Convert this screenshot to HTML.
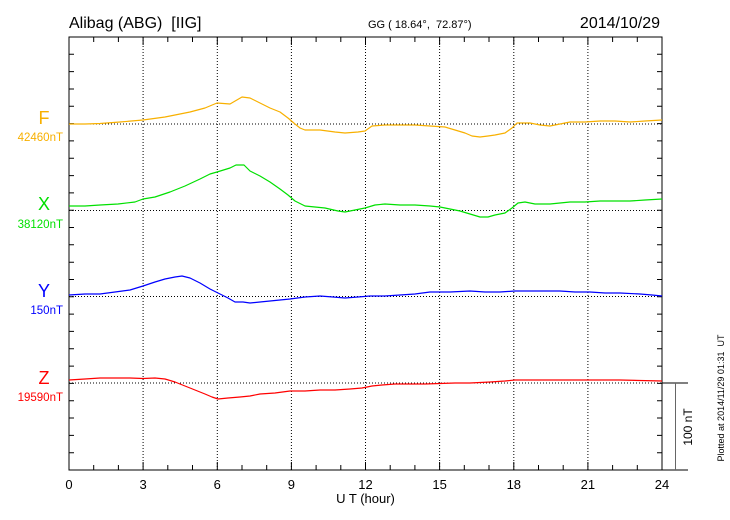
<!DOCTYPE html>
<html><head><meta charset="utf-8"><style>
body{margin:0;background:#fff;}
svg{display:block;font-family:"Liberation Sans",sans-serif;}
</style></head><body>
<svg width="730" height="520" viewBox="0 0 730 520" xmlns="http://www.w3.org/2000/svg">
<rect width="730" height="520" fill="#fff"/>
<text x="69" y="28" font-size="16">Alibag (ABG)&#160;&#160;[IIG]</text>
<text x="368" y="28" font-size="11">GG (&#160;18.64°,&#160;&#160;72.87°)</text>
<text x="660" y="28" font-size="16" text-anchor="end">2014/10/29</text>
<g stroke="#000" stroke-width="1" stroke-dasharray="1,2" fill="none">
<line x1="143.1" y1="37" x2="143.1" y2="470"/><line x1="217.3" y1="37" x2="217.3" y2="470"/>
<line x1="291.4" y1="37" x2="291.4" y2="470"/><line x1="365.5" y1="37" x2="365.5" y2="470"/>
<line x1="439.6" y1="37" x2="439.6" y2="470"/><line x1="513.8" y1="37" x2="513.8" y2="470"/>
<line x1="587.9" y1="37" x2="587.9" y2="470"/>
<line x1="69" y1="124" x2="662" y2="124"/><line x1="69" y1="210.5" x2="662" y2="210.5"/>
<line x1="69" y1="296.5" x2="662" y2="296.5"/><line x1="69" y1="383" x2="662" y2="383"/>
</g>
<g stroke="#000" stroke-width="1" fill="none">
<rect x="69" y="37" width="593" height="433"/>
<line x1="662" y1="470" x2="688" y2="470"/>
<line x1="662" y1="383" x2="688" y2="383"/>
<line x1="675.5" y1="383" x2="675.5" y2="470" stroke="#666"/>
<path d="M93.7 37v5M118.4 37v5M143.1 37v8M167.8 37v5M192.5 37v5M217.3 37v8M242 37v5M266.7 37v5M291.4 37v8M316.1 37v5M340.8 37v5M365.5 37v8M390.2 37v5M414.9 37v5M439.6 37v8M464.3 37v5M489 37v5M513.8 37v8M538.5 37v5M563.2 37v5M587.9 37v8M612.6 37v5M637.3 37v5
M93.7 470v-5M118.4 470v-5M143.1 470v-8M167.8 470v-5M192.5 470v-5M217.3 470v-8M242 470v-5M266.7 470v-5M291.4 470v-8M316.1 470v-5M340.8 470v-5M365.5 470v-8M390.2 470v-5M414.9 470v-5M439.6 470v-8M464.3 470v-5M489 470v-5M513.8 470v-8M538.5 470v-5M563.2 470v-5M587.9 470v-8M612.6 470v-5M637.3 470v-5"/>
<path d="M69 54.3h5M69 71.6h5M69 89h5M69 106.3h5M69 123.6h5M69 140.9h5M69 158.2h5M69 175.6h5M69 192.9h5M69 210.2h5M69 227.5h5M69 244.8h5M69 262.2h5M69 279.5h5M69 296.8h5M69 314.1h5M69 331.4h5M69 348.8h5M69 366.1h5M69 383.4h5M69 400.7h5M69 418h5M69 435.4h5M69 452.7h5
M662 54.3h-5M662 71.6h-5M662 89h-5M662 106.3h-5M662 123.6h-5M662 140.9h-5M662 158.2h-5M662 175.6h-5M662 192.9h-5M662 210.2h-5M662 227.5h-5M662 244.8h-5M662 262.2h-5M662 279.5h-5M662 296.8h-5M662 314.1h-5M662 331.4h-5M662 348.8h-5M662 366.1h-5M662 383.4h-5M662 400.7h-5M662 418h-5M662 435.4h-5M662 452.7h-5"/>
</g>
<g fill="none" stroke-width="1.2" stroke-linejoin="round">
<polyline stroke="#f8b000" points="69,124 85,124 100,123.5 120,122 143,120 165,117 190,112 205,108 217,103 230,104 242,97 250,98 260,103 270,108 280,112 288,118 295,124 300,128 305,130 320,130 335,132 345,133 358,132 365,131 372,126 385,125 400,125 415,125 430,126 445,127 455,130 465,133 472,136 480,137 488,136 495,135 505,133 512,128 517,123 530,123 540,125 550,126 560,124 570,122 585,122 600,121 615,121 630,122 645,121 662,120"/>
<polyline stroke="#00e000" points="69,206 85,206 100,205 118,204 135,202 143,199 155,197 170,192 185,186 200,179 210,174 217,172 230,168 236,165 244,165 250,171 260,176 270,182 280,189 288,195 295,201 305,206 315,207 325,208 338,211 345,212 355,210 365,208 375,205 385,204 400,205 415,205 430,206 440,207 450,209 460,211 470,214 480,217 488,217 495,215 505,213 512,208 518,203 525,202 535,204 550,204 560,203 570,202 585,202 600,201 615,201 630,201 645,200 662,199"/>
<polyline stroke="#0000ff" points="69,295 85,294 100,294 115,292 130,290 143,286 155,282 165,279 175,277 182,276 190,278 200,283 210,289 220,294 228,298 235,302 243,302 250,303 260,302 270,301 280,300 290,299 305,297 320,296 333,297 345,298 358,297 370,296 385,296 400,295 415,294 430,292 450,292 470,291 485,292 500,292 515,291 530,291 545,291 560,291 575,292 590,292 605,293 620,293 640,294 652,295 662,296"/>
<polyline stroke="#ff0000" points="69,380 85,379 100,378 115,378 130,378 143,378.5 155,378 165,379 175,382 185,386 195,390 205,394 212,397 218,399 228,398 240,397 250,396 260,394 275,393 290,391 305,391 320,390 335,390 350,389 362,388 372,386 382,385 395,384 410,384 425,384 440,383.5 455,383 470,383 490,382 505,381 515,380 530,380 545,380 560,380 580,380 600,380 620,380 640,380.5 662,381"/>
</g>
<g font-size="18" text-anchor="middle">
<text x="44" y="124" fill="#f8b000">F</text>
<text x="44" y="210" fill="#00e000">X</text>
<text x="44" y="297" fill="#0000ff">Y</text>
<text x="44" y="384" fill="#ff0000">Z</text>
</g>
<g font-size="11.5" text-anchor="end">
<text x="63" y="141" fill="#f8b000">42460nT</text>
<text x="63" y="228" fill="#00e000">38120nT</text>
<text x="63" y="314" fill="#0000ff">150nT</text>
<text x="63" y="401" fill="#ff0000">19590nT</text>
</g>
<g font-size="13" text-anchor="middle">
<text x="69" y="489">0</text><text x="143.1" y="489">3</text><text x="217.3" y="489">6</text>
<text x="291.4" y="489">9</text><text x="365.5" y="489">12</text><text x="439.6" y="489">15</text>
<text x="513.8" y="489">18</text><text x="587.9" y="489">21</text><text x="662" y="489">24</text>
<text x="365.5" y="503">U T (hour)</text>
</g>
<text transform="translate(692,427) rotate(-90)" font-size="12" text-anchor="middle">100 nT</text>
<text transform="translate(724,398) rotate(-90)" font-size="9" text-anchor="middle">Plotted at 2014/11/29 01:31&#160;&#160;UT</text>
</svg>
</body></html>
